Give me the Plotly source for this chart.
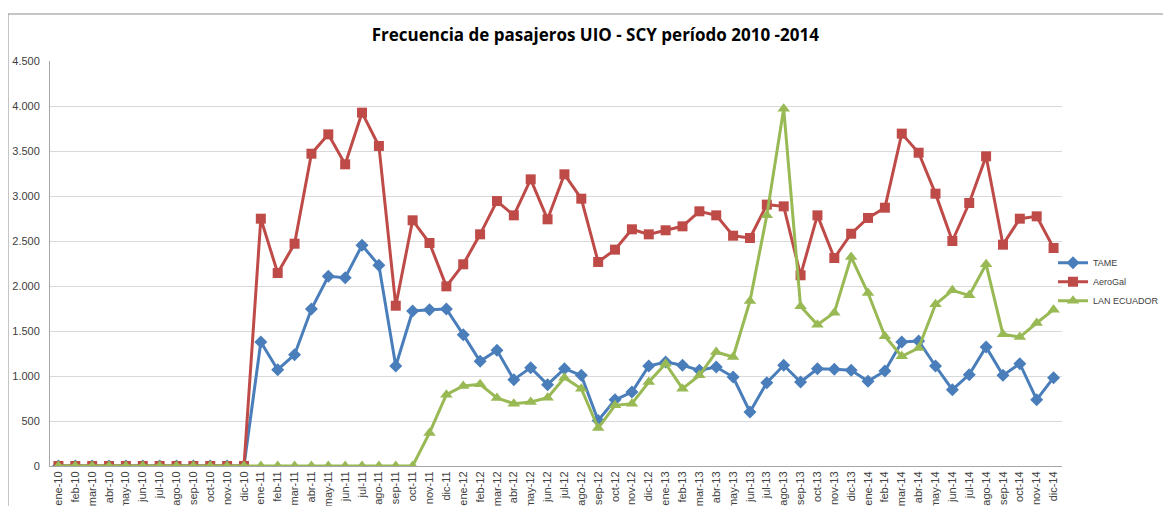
import plotly.graph_objects as go

months = ["ene", "feb", "mar", "abr", "may", "jun", "jul", "ago", "sep", "oct", "nov", "dic"]
years = ["10", "11", "12", "13", "14"]
categories = [f"{m}-{y}" for y in years for m in months]

tame = [0]*12 + [
    1378, 1070, 1237, 1744, 2107, 2093, 2452, 2230, 1111, 1722, 1737, 1744,
    1459, 1163, 1285, 959, 1093, 904, 1081, 1007, 505, 735, 822, 1111,
    1156, 1119, 1063, 1100, 989, 600, 926, 1119, 933, 1081, 1074, 1063,
    941, 1056, 1378, 1389, 1111, 848, 1015, 1322, 1007, 1137, 737, 981]

aerogal = [0]*12 + [
    2748, 2144, 2470, 3470, 3685, 3352, 3926, 3556, 1781, 2730, 2478, 1996,
    2241, 2574, 2944, 2785, 3185, 2741, 3241, 2970, 2267, 2404, 2630, 2574,
    2619, 2663, 2830, 2785, 2559, 2533, 2904, 2885, 2119, 2785, 2311, 2581,
    2756, 2870, 3693, 3481, 3026, 2500, 2922, 3441, 2459, 2748, 2774, 2422]

lan = [0]*22 + [
    367, 793,
    889, 907, 756, 693, 711, 759, 981, 859, 422, 674, 693, 933,
    1137, 859, 1007, 1267, 1211, 1833, 2785, 3970, 1774, 1570, 1704, 2322,
    1922, 1441, 1219, 1311, 1796, 1952, 1896, 2241, 1463, 1433, 1589, 1737]

y_ticks = [0, 500, 1000, 1500, 2000, 2500, 3000, 3500, 4000, 4500]

series = [
    ("TAME", tame, "#4A7EBB", "diamond", 10),
    ("AeroGal", aerogal, "#BE4B48", "square", 10),
    ("LAN ECUADOR", lan, "#98B954", "triangle-up", 11),
]

FONT = "Liberation Sans, Arial, sans-serif"

fig = go.Figure()
for name, vals, color, sym, sz in series:
    fig.add_trace(go.Scatter(
        x=categories, y=vals, name=name, mode="lines+markers",
        line=dict(color=color, width=3),
        marker=dict(symbol=sym, size=sz, color=color),
    ))

# page body has an 8px offset; figure sized so plot area sits at page x 50-1062, y 61-466
fig.update_layout(
    width=1163, height=498,
    margin=dict(l=42, r=109, t=53, b=40, autoexpand=False),
    paper_bgcolor="white", plot_bgcolor="white",
    separators=",.",
    title=dict(
        text="<b>Frecuencia de pasajeros UIO - SCY período 2010 -2014</b>",
        x=0.505, xanchor="center", y=1 - 27/498, yanchor="middle",
        font=dict(family="Open Sans, Liberation Sans, sans-serif", size=17, color="black"),
    ),
    legend=dict(
        x=(1156 - 42) / 1012, y=0.455, xanchor="right", yanchor="middle",
        font=dict(family=FONT, size=9, color="#404040"),
        bgcolor="rgba(0,0,0,0)", tracegroupgap=3, itemwidth=30,
    ),
    showlegend=True,
)

fig.update_xaxes(
    type="category", range=[-0.5, 59.5], tickangle=-90,
    showgrid=False, showline=True, linecolor="#A6A6A6", linewidth=1,
    ticks="", automargin=False,
    tickfont=dict(family=FONT, size=11, color="#404040"),
)
fig.update_yaxes(
    range=[0, 4500], tickvals=y_ticks, tickformat=",d",
    showgrid=True, gridcolor="#D9D9D9", gridwidth=1,
    showline=True, linecolor="#A6A6A6", linewidth=1,
    zeroline=False, ticks="", automargin=False, ticklabelstandoff=7,
    tickfont=dict(family=FONT, size=11, color="#404040"),
)

# outer chart border
fig.add_shape(type="rect", xref="paper", yref="paper",
              x0=-42/1012, x1=1.2, y0=-0.3, y1=(405 + 47)/405,
              line=dict(color="#8C8C8C", width=1), layer="below")

fig.write_html("out.html")
